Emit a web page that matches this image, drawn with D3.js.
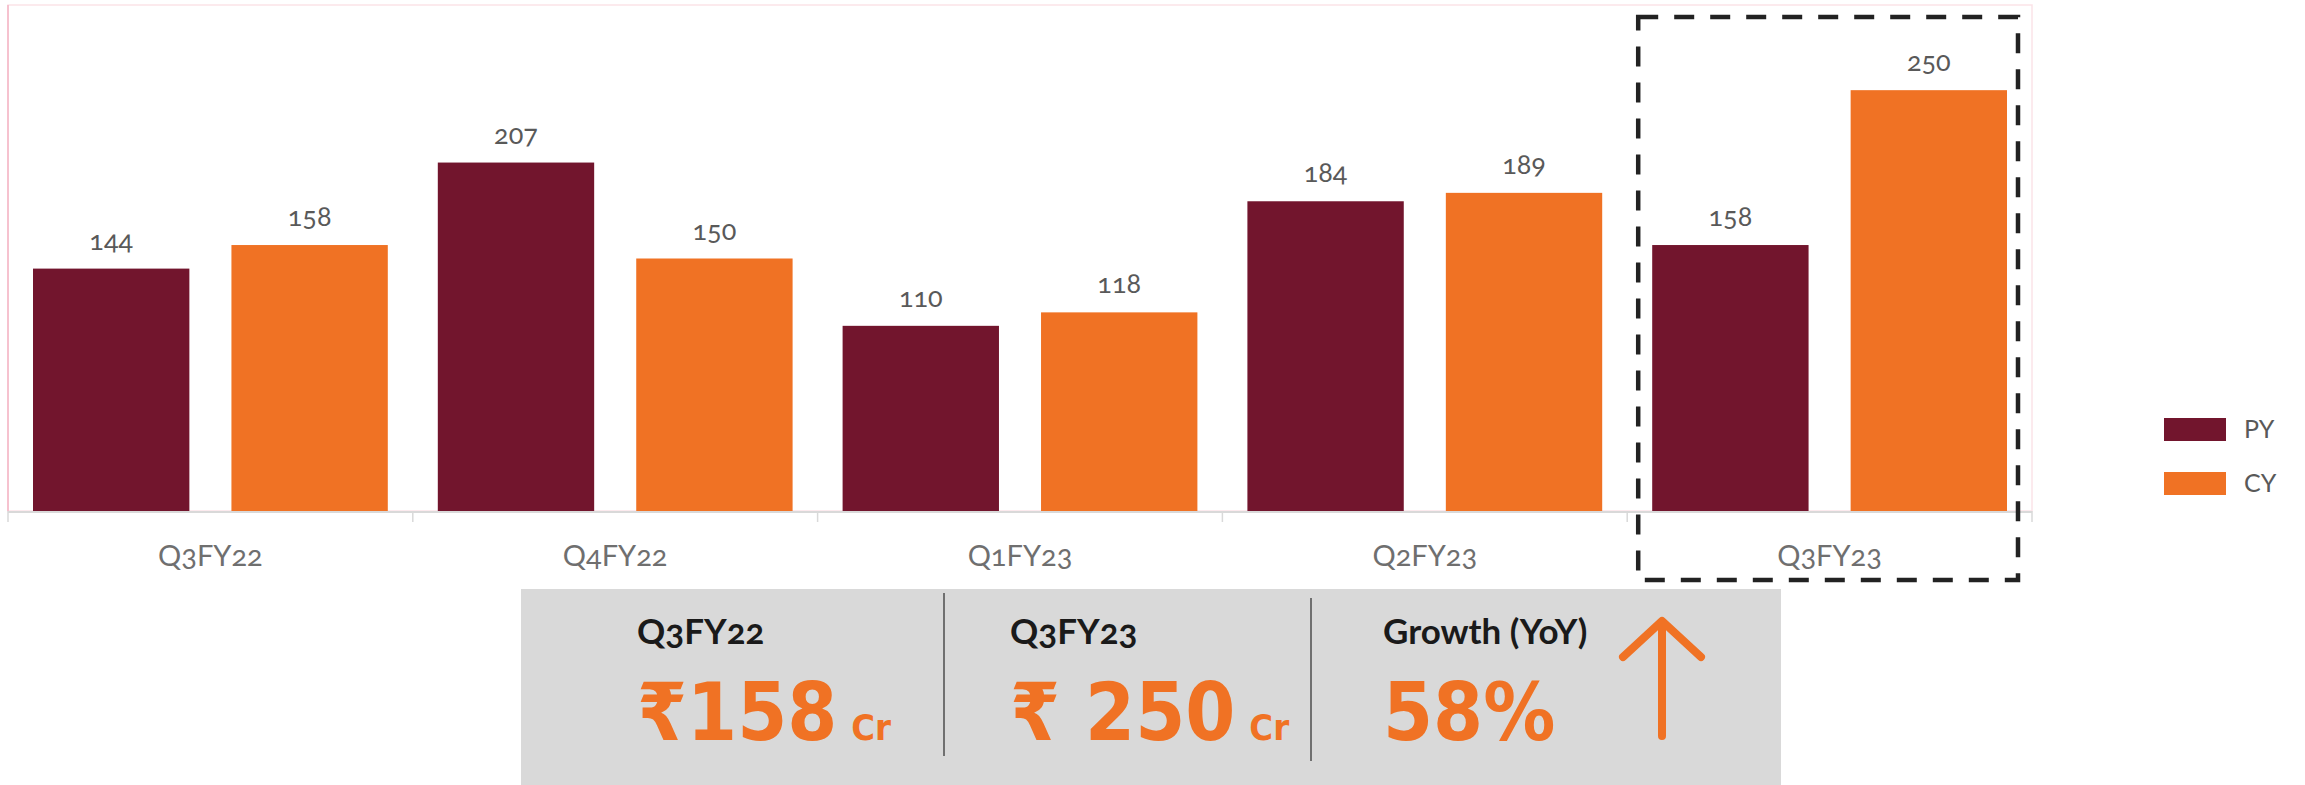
<!DOCTYPE html>
<html lang="en">
<head>
<meta charset="utf-8">
<title>Quarterly PY vs CY</title>
<script src="https://cdn.jsdelivr.net/npm/d3@7"></script>
<style>
  body { margin: 0; background: #fff; }
  svg text { font-family: Lato, "Open Sans", sans-serif; }
  .num { font-variant-numeric: oldstyle-nums; font-feature-settings: "onum" 1; }
  .card { font-family: "DejaVu Sans Condensed", "DejaVu Sans", sans-serif !important; font-weight: bold; }
  .head { font-weight: bold; }
</style>
</head>
<body>
<script>
// data
var categories = ["Q3FY22", "Q4FY22", "Q1FY23", "Q2FY23", "Q3FY23"];
var seriesNames = ["PY", "CY"];
var pyValues = [144, 207, 110, 184, 158];
var cyValues = [158, 150, 118, 189, 250];
var seriesColors = ["#72152d", "#f07224"];
var highlightCategory = "Q3FY23";
var cardTitles = ["Q3FY22", "Q3FY23", "Growth (YoY)"];
var cardValues = ["\u20B9158", "\u20B9 250", "58%"];
var cardUnits = ["Cr", "Cr", ""];

var width = 2305, height = 785;
var plot = {left: 8, right: 2032, top: 5, bottom: 511};

var svg = d3.select("body").append("svg")
            .attr("width", width)
            .attr("height", height);

var x0 = d3.scaleBand()
           .domain(categories)
           .range([plot.left, plot.right])
           .padding(0);

var x1 = d3.scaleBand()
           .domain(seriesNames)
           .range([0, x0.bandwidth()])
           .paddingInner(0.212)
           .paddingOuter(0.126);

var y = d3.scaleLinear()
          .domain([0, 300])
          .range([plot.bottom, plot.top + 1]);

var color = d3.scaleOrdinal().domain(seriesNames).range(seriesColors);

// plot area frame (faint pink)
svg.append("rect")
   .attr("x", plot.left).attr("y", plot.top)
   .attr("width", plot.right - plot.left)
   .attr("height", plot.bottom - plot.top)
   .attr("fill", "none")
   .attr("stroke", "#fbe3e8")
   .attr("stroke-width", 1.5);
svg.append("line")
   .attr("x1", plot.left).attr("x2", plot.left)
   .attr("y1", plot.top).attr("y2", plot.bottom)
   .attr("stroke", "#f4b5c4").attr("stroke-width", 1.5);

var rows = categories.map(function(c, i) {
  return {cat: c, values: [
    {key: "PY", value: pyValues[i]},
    {key: "CY", value: cyValues[i]}
  ]};
});

var groups = svg.selectAll("g.grp")
                .data(rows)
                .enter()
                .append("g")
                .attr("class", "grp")
                .attr("transform", function(d) { return "translate(" + x0(d.cat) + ",0)"; });

groups.selectAll("rect")
      .data(function(d) { return d.values; })
      .enter()
      .append("rect")
      .attr("x", function(d) { return x1(d.key); })
      .attr("y", function(d) { return y(d.value); })
      .attr("width", x1.bandwidth())
      .attr("height", function(d) { return y(0) - y(d.value); })
      .attr("fill", function(d) { return color(d.key); });

groups.selectAll("text.val")
      .data(function(d) { return d.values; })
      .enter()
      .append("text")
      .attr("class", "val num")
      .attr("x", function(d) { return x1(d.key) + x1.bandwidth() / 2; })
      .attr("y", function(d) { return y(d.value) - 19; })
      .attr("text-anchor", "middle")
      .attr("font-size", 27)
      .attr("fill", "#595959")
      .text(function(d) { return d.value; });

// category axis: baseline, boundary ticks, centred labels
svg.append("line")
   .attr("x1", plot.left).attr("x2", plot.right)
   .attr("y1", plot.bottom + 1).attr("y2", plot.bottom + 1)
   .attr("stroke", "#d9d9d9").attr("stroke-width", 2);

var bounds = categories.map(function(c) { return x0(c); }).concat([x0(categories[categories.length - 1]) + x0.bandwidth()]);
svg.selectAll("line.tick")
   .data(bounds)
   .enter()
   .append("line")
   .attr("class", "tick")
   .attr("x1", function(d) { return d; }).attr("x2", function(d) { return d; })
   .attr("y1", plot.bottom).attr("y2", plot.bottom + 11)
   .attr("stroke", "#d9d9d9").attr("stroke-width", 1.5);

svg.selectAll("text.cat")
   .data(categories)
   .enter()
   .append("text")
   .attr("class", "cat num")
   .attr("x", function(d) { return x0(d) + x0.bandwidth() / 2; })
   .attr("y", 566)
   .attr("text-anchor", "middle")
   .attr("font-size", 29)
   .attr("fill", "#6f6f6f")
   .text(function(d) { return d; });

// dashed highlight box around the last quarter
svg.append("rect")
   .attr("x", x0(highlightCategory) + 11)
   .attr("y", 17)
   .attr("width", x0.bandwidth() - 25)
   .attr("height", 563)
   .attr("fill", "none")
   .attr("stroke", "#222")
   .attr("stroke-width", 4.5)
   .attr("stroke-dasharray", "20,16");

// legend
var legend = svg.selectAll("g.leg")
                .data(seriesNames)
                .enter()
                .append("g")
                .attr("class", "leg")
                .attr("transform", function(d, i) { return "translate(2164," + (418 + i * 54) + ")"; });
legend.append("rect")
      .attr("width", 62).attr("height", 23)
      .attr("fill", function(d) { return color(d); });
legend.append("text")
      .attr("x", 80).attr("y", 20)
      .attr("font-size", 25)
      .attr("fill", "#595959")
      .text(function(d) { return d; });

// summary panel
svg.append("rect")
   .attr("x", 521).attr("y", 589)
   .attr("width", 1260).attr("height", 196)
   .attr("fill", "#d9d9d9");

svg.append("line").attr("x1", 944).attr("x2", 944).attr("y1", 593).attr("y2", 756)
   .attr("stroke", "#4d4d4d").attr("stroke-width", 1.5);
svg.append("line").attr("x1", 1311).attr("x2", 1311).attr("y1", 598).attr("y2", 761)
   .attr("stroke", "#4d4d4d").attr("stroke-width", 1.5);

var cardX = [637, 1010, 1383];
var cards = svg.selectAll("g.card")
               .data(cardTitles)
               .enter()
               .append("g")
               .attr("transform", function(d, i) { return "translate(" + cardX[i] + ",0)"; });

cards.append("text")
     .attr("class", "head num")
     .attr("y", 644)
     .attr("font-size", 35)
     .attr("fill", "#1a1a1a")
     .text(function(d) { return d; });

var bigText = cards.append("text")
     .attr("class", "card")
     .attr("y", 740)
     .attr("fill", "#f07224");
bigText.append("tspan")
       .attr("font-size", 80)
       .text(function(d, i) { return cardValues[i]; });
bigText.append("tspan")
       .attr("dx", 14)
       .attr("font-size", 36)
       .text(function(d, i) { return cardUnits[i]; });

// growth arrow
svg.append("path")
   .attr("d", "M1662,736 L1662,624 M1623,657 L1662,621 L1701,657")
   .attr("fill", "none")
   .attr("stroke", "#f07224")
   .attr("stroke-width", 8)
   .attr("stroke-linecap", "round")
   .attr("stroke-linejoin", "round");
</script>
</body>
</html>
